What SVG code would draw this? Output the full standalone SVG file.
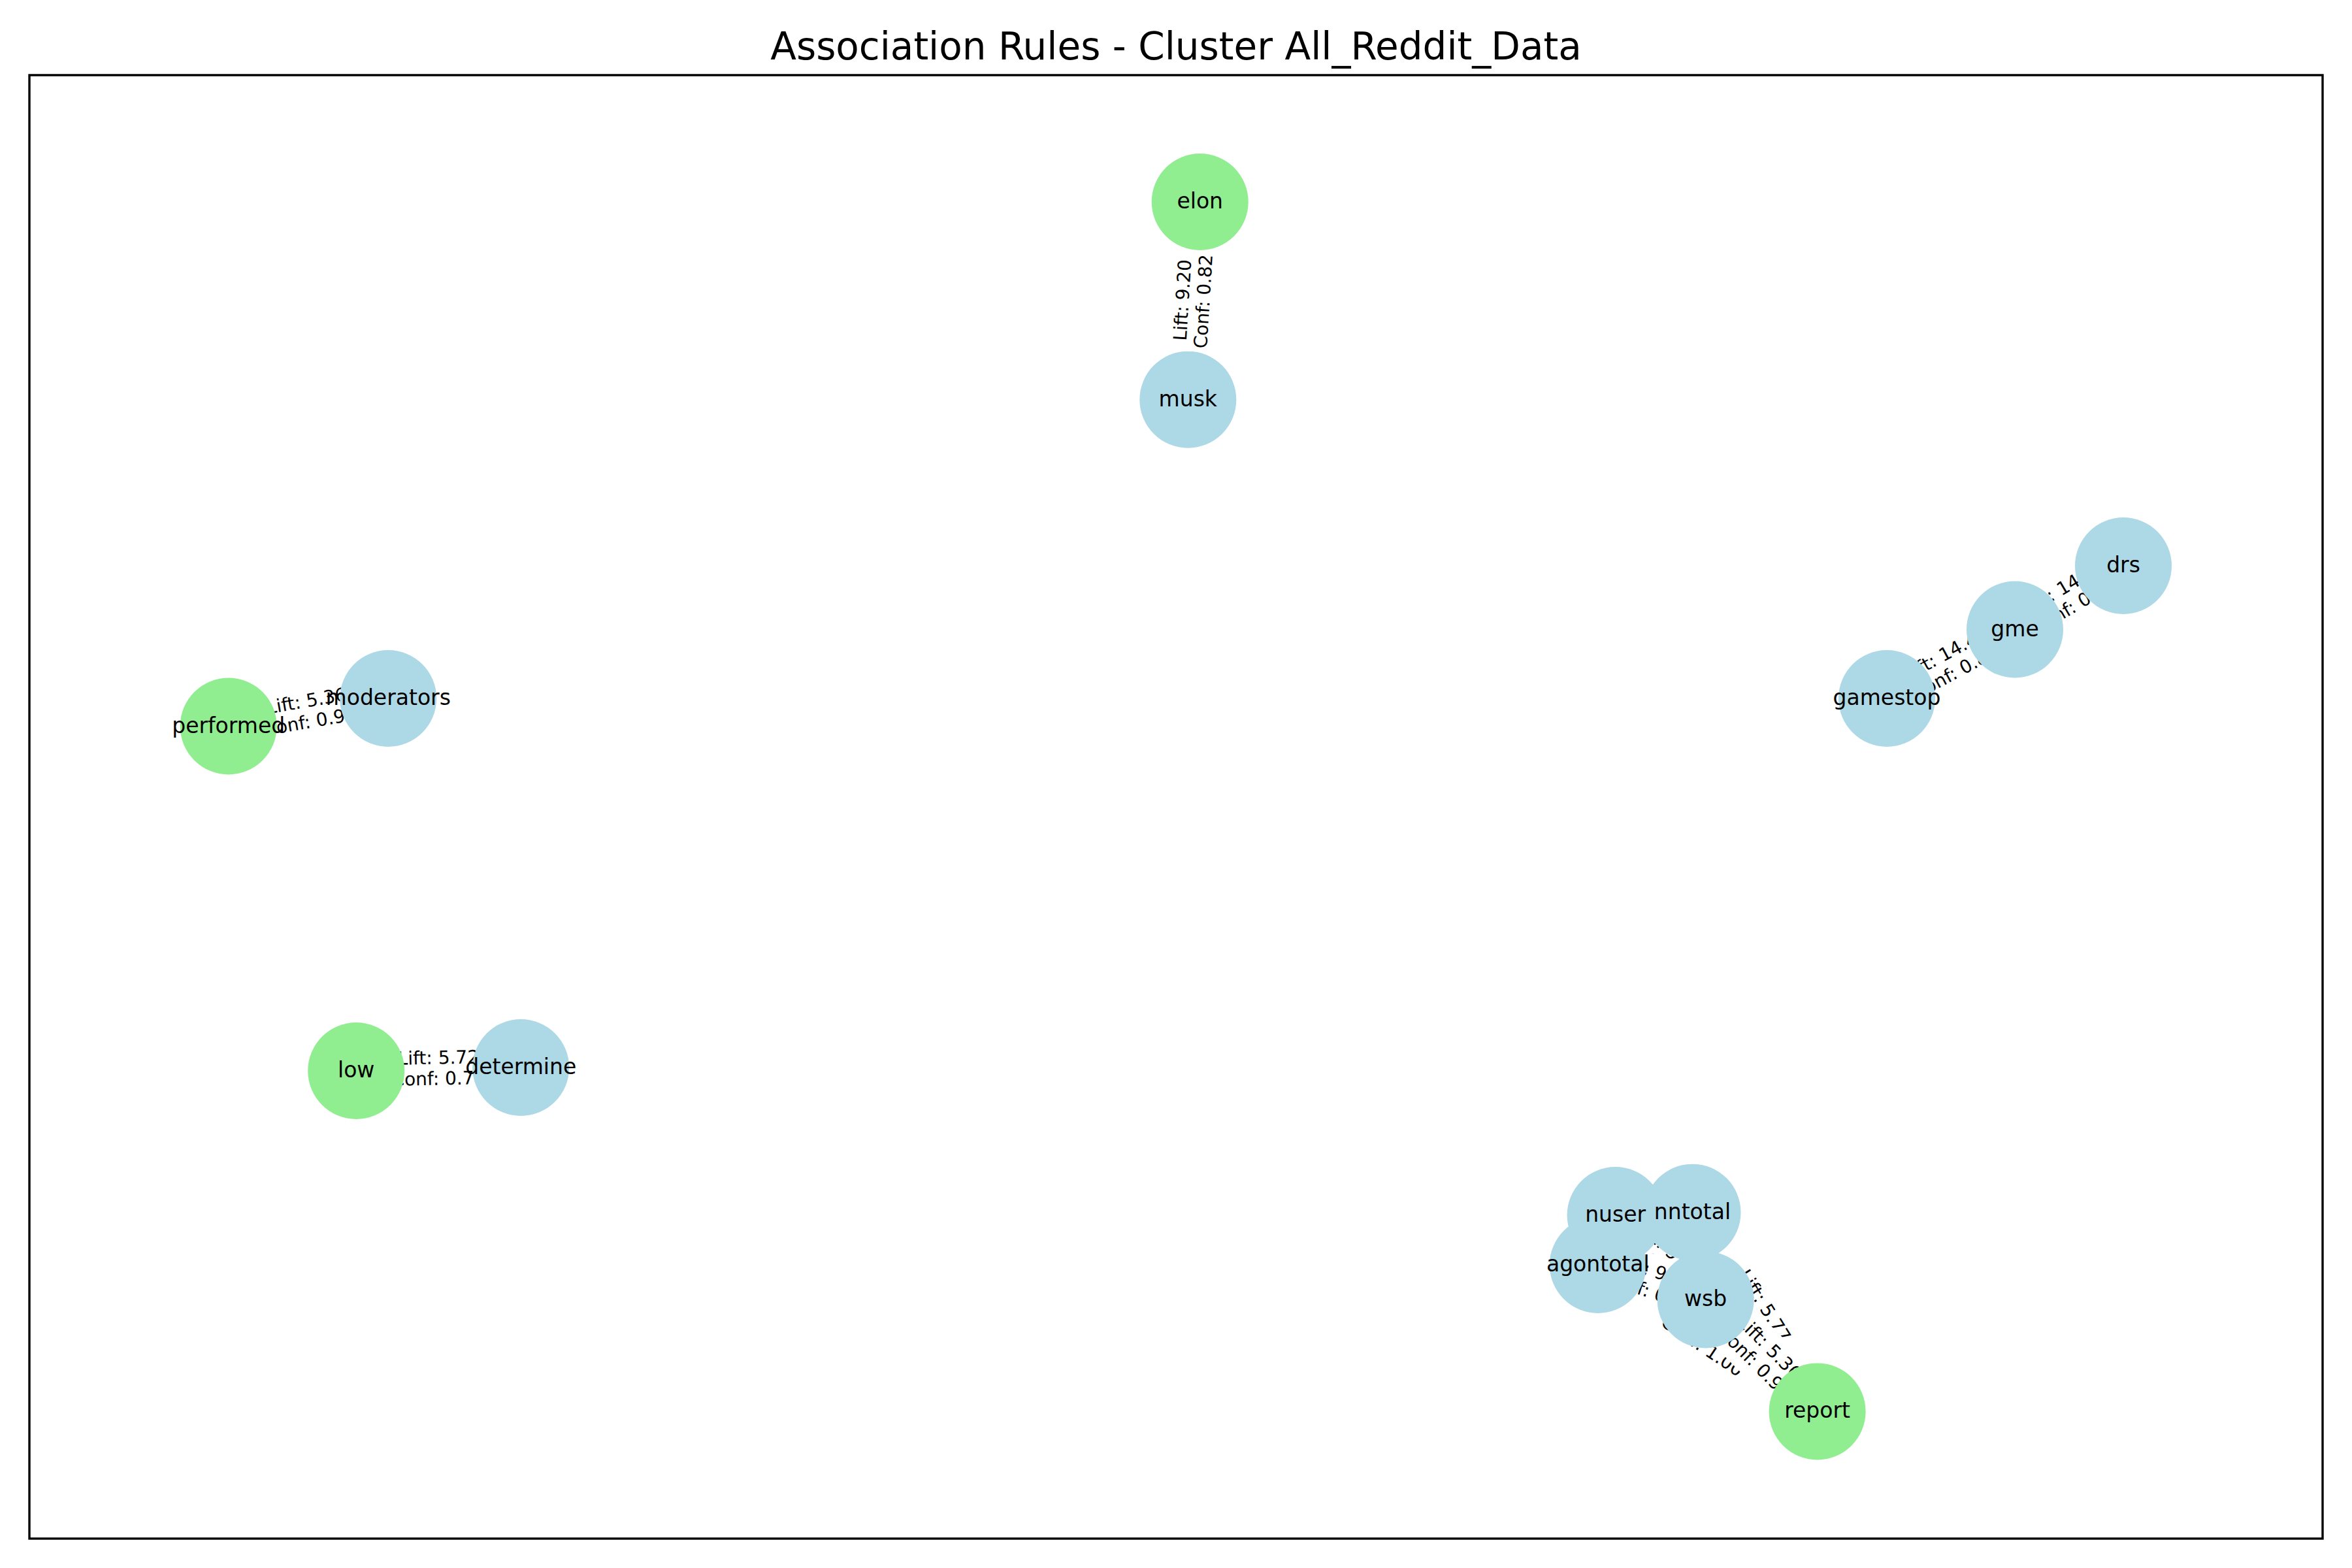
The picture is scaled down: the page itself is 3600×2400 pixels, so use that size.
<svg xmlns="http://www.w3.org/2000/svg" width="3600" height="2400" viewBox="0 0 3600 2400">
<style>
.frame{fill:none;stroke:#000;stroke-width:3.4}
.title{font-family:"DejaVu Sans","Liberation Sans",sans-serif;font-size:58px;text-anchor:middle;fill:#000}
.blue{fill:#ADD8E6}
.green{fill:#90EE90}
.nl{font-family:"DejaVu Sans","Liberation Sans",sans-serif;font-size:33px;text-anchor:middle;fill:#000}
.el text{font-family:"DejaVu Sans","Liberation Sans",sans-serif;font-size:28px;text-anchor:middle;fill:#000}
.el rect{fill:#fff;stroke:#fff;stroke-width:1}
</style>
<rect width="3600" height="2400" fill="#fff"/>
<rect class="frame" x="45" y="115" width="3510" height="2240"/>
<text class="title" x="1800" y="91">Association Rules - Cluster All_Reddit_Data</text>
<g id="connectors">
  <g id="edge-elon-musk" class="el" transform="translate(1827.5,460.4) rotate(-86.5)"><rect x="-82" y="-42" width="164" height="82" rx="9"/><text y="-8">Lift: 9.20</text><text y="24">Conf: 0.82</text></g>
  <g id="edge-performed-moderators" class="el" transform="translate(472,1090.3) rotate(-9.9)"><rect x="-82" y="-42" width="164" height="82" rx="9"/><text y="-8">Lift: 5.36</text><text y="24">Conf: 0.93</text></g>
  <g id="edge-low-determine" class="el" transform="translate(671.2,1636.5) rotate(-1.1)"><rect x="-82" y="-42" width="164" height="82" rx="9"/><text y="-8">Lift: 5.72</text><text y="24">Conf: 0.78</text></g>
  <g id="edge-gamestop-gme" class="el" transform="translate(2986,1016.3) rotate(-28.3)"><rect x="-82" y="-42" width="164" height="82" rx="9"/><text y="-8">Lift: 14.47</text><text y="24">Conf: 0.85</text></g>
  <g id="edge-gme-drs" class="el" transform="translate(3167,914.8) rotate(-30.4)"><rect x="-82" y="-42" width="164" height="82" rx="9"/><text y="-8">Lift: 14.47</text><text y="24">Conf: 0.78</text></g>
  <g id="edge-nuser-wsb" class="el" transform="translate(2541.6,1924.7) rotate(43.2)"><rect x="-82" y="-42" width="164" height="82" rx="9"/><text y="-8">Lift: 9.54</text><text y="24">Conf: 0.97</text></g>
  <g id="edge-agontotal-wsb" class="el" transform="translate(2528.2,1962.7) rotate(18)"><rect x="-82" y="-42" width="164" height="82" rx="9"/><text y="-8">Lift: 9.54</text><text y="24">Conf: 0.98</text></g>
  <g id="edge-nntotal-report" class="el" transform="translate(2686,2008) rotate(57.9)"><rect x="-82" y="-42" width="164" height="82" rx="9"/><text y="-8">Lift: 5.77</text><text y="24">Conf: 1.00</text></g>
  <g id="edge-agontotal-report" class="el" transform="translate(2613.7,2048.2) rotate(33.8)"><rect x="-82" y="-42" width="164" height="82" rx="9"/><text y="-8">Lift: 5.77</text><text y="24">Conf: 1.00</text></g>
  <g id="edge-wsb-report" class="el" transform="translate(2696.1,2074.9) rotate(45)"><rect x="-82" y="-42" width="164" height="82" rx="9"/><text y="-8">Lift: 5.36</text><text y="24">Conf: 0.93</text></g>
</g>
<g id="nodes">
  <g id="node-elon"><circle class="green" cx="1836.7" cy="309" r="74"/></g>
  <g id="node-musk"><circle class="blue" cx="1818.3" cy="611.7" r="74"/></g>
  <g id="node-performed"><circle class="green" cx="349.7" cy="1111.5" r="74"/></g>
  <g id="node-moderators"><circle class="blue" cx="594.2" cy="1069" r="74"/></g>
  <g id="node-low"><circle class="green" cx="545.2" cy="1639" r="74"/></g>
  <g id="node-determine"><circle class="blue" cx="797.2" cy="1634" r="74"/></g>
  <g id="node-gamestop"><circle class="blue" cx="2888" cy="1069" r="74"/></g>
  <g id="node-gme"><circle class="blue" cx="3084" cy="963.5" r="74"/></g>
  <g id="node-drs"><circle class="blue" cx="3250" cy="866" r="74"/></g>
  <g id="node-agontotal"><circle class="blue" cx="2445.8" cy="1936" r="74"/></g>
  <g id="node-nuser"><circle class="blue" cx="2472.6" cy="1860" r="74"/></g>
  <g id="node-nntotal"><circle class="blue" cx="2590.5" cy="1855.7" r="74"/></g>
  <g id="node-wsb"><circle class="blue" cx="2610.6" cy="1989.4" r="74"/></g>
  <g id="node-report"><circle class="green" cx="2781.6" cy="2160.4" r="74"/></g>
</g>
<g id="node-labels">
  <text class="nl" x="1836.7" y="319">elon</text>
  <text class="nl" x="1818.3" y="621.7">musk</text>
  <text class="nl" x="349.7" y="1121.5">performed</text>
  <text class="nl" x="594.2" y="1079">moderators</text>
  <text class="nl" x="545.2" y="1649">low</text>
  <text class="nl" x="797.2" y="1644">determine</text>
  <text class="nl" x="2888" y="1079">gamestop</text>
  <text class="nl" x="3084" y="973.5">gme</text>
  <text class="nl" x="3250" y="876">drs</text>
  <text class="nl" x="2445.8" y="1946">agontotal</text>
  <text class="nl" x="2472.6" y="1870">nuser</text>
  <text class="nl" x="2590.5" y="1865.7">nntotal</text>
  <text class="nl" x="2610.6" y="1999.4">wsb</text>
  <text class="nl" x="2781.6" y="2170.4">report</text>
</g>
</svg>
